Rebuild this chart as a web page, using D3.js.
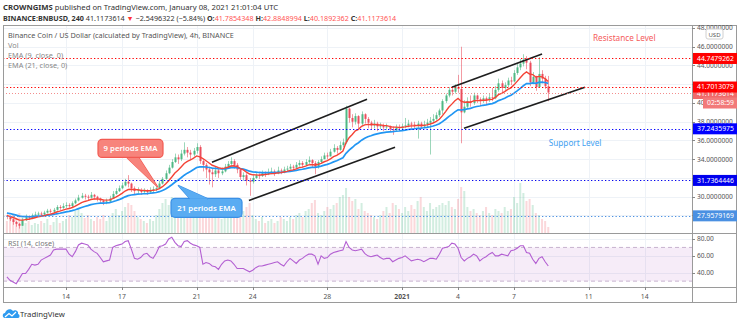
<!DOCTYPE html>
<html><head><meta charset="utf-8">
<script src="https://cdn.jsdelivr.net/npm/d3@7"></script>
<style>
html,body{margin:0;padding:0;background:#fff;}
svg{display:block;font-family:"Noto Sans",sans-serif;}
</style></head><body>
<svg id="c" width="740" height="324"></svg>
<script>
// ---------------- DATA ----------------
const firstCandleTime = Date.UTC(2020, 11, 10, 20, 0); // 4h candles
const candleHours = 4;
const firstOpen = 28.0;
const closes = [
27.9,27.6,27.3,27.1,26.9,27.5,27.8,27.7,28.0,28.1,
28.2,28.1,28.3,28.5,28.4,28.6,28.9,28.8,29.0,29.1,
29.0,29.3,29.6,29.9,30.1,30.0,29.9,30.2,30.0,29.8,
29.6,29.4,29.5,29.8,30.3,30.6,30.9,31.2,31.6,31.4,
30.9,30.6,30.7,30.5,30.6,30.5,30.7,30.8,30.9,31.4,
31.9,32.5,33.1,33.7,34.2,34.0,34.6,35.0,34.7,34.5,
34.9,35.3,33.8,33.4,32.9,32.6,32.4,32.8,32.5,32.7,
33.2,33.5,33.8,33.4,32.9,32.1,32.3,31.7,31.6,32.0,
32.3,32.2,32.5,32.4,32.6,32.7,32.5,32.8,32.7,32.9,
33.0,33.2,33.1,33.4,33.6,33.4,33.7,33.9,33.6,33.2,
33.7,34.0,34.4,34.3,34.8,35.2,35.0,35.5,35.8,39.4,
38.4,38.0,38.6,37.8,38.8,38.3,37.9,37.6,37.8,37.5,
37.6,37.4,37.5,37.2,37.1,37.4,37.3,37.5,37.6,37.8,
37.7,37.6,37.8,37.5,37.7,37.9,38.1,38.3,38.7,39.2,
40.2,40.8,41.4,41.2,41.7,41.5,39.0,39.6,40.2,40.0,
40.8,40.4,40.2,40.5,40.3,40.6,40.5,41.4,42.1,41.6,
41.9,42.4,42.3,43.2,43.8,44.2,44.6,44.3,42.2,42.8,
41.7,43.1,42.6,41.7854348,41.1173614];
const highs = [
28.1,28.0,27.7,27.4,27.2,27.7,28.1,28.0,28.2,28.4,
28.4,28.4,28.5,28.7,28.7,28.8,29.1,29.1,29.3,29.4,
29.3,29.5,29.8,30.2,30.4,30.3,30.2,30.5,30.3,30.1,
29.9,29.7,29.8,30.1,30.6,30.9,31.2,31.5,31.9,32.3,
31.5,31.1,31.0,30.9,30.9,30.8,31.0,31.1,31.2,31.7,
32.1,32.8,33.4,34.0,34.6,34.5,35.0,35.8,35.3,35.0,
35.2,35.7,35.5,34.0,33.6,33.2,33.0,33.2,33.0,33.1,
33.5,33.8,34.2,34.0,33.6,33.0,32.6,32.5,32.0,32.3,
32.5,32.5,32.8,32.7,33.0,33.1,32.9,33.2,33.0,33.2,
33.3,33.5,33.4,33.7,33.9,33.8,34.0,34.3,34.0,33.8,
33.9,34.3,34.7,34.7,35.1,35.6,35.4,35.9,36.2,39.7,
39.5,38.8,38.9,38.7,39.1,38.9,38.5,38.1,38.2,38.0,
37.9,37.8,37.8,37.6,37.5,37.7,37.7,37.8,38.4,38.2,
38.0,38.0,38.1,38.0,38.1,38.3,38.5,38.8,39.0,39.4,
40.4,41.0,41.7,41.7,42.0,43.0,46.0,40.3,40.6,40.8,
41.1,40.9,40.6,40.8,40.7,41.0,41.6,41.8,42.6,42.4,
42.2,42.7,42.8,43.5,44.2,44.7,45.2,45.0,44.5,43.3,
42.9,44.9,43.5,42.9,42.8848994];
const lows = [
27.6,27.4,27.0,26.8,26.6,26.9,27.4,27.5,27.6,27.9,
28.0,27.9,28.0,28.2,28.2,28.3,28.5,28.6,28.7,28.8,
28.8,28.9,29.2,29.5,29.8,29.7,29.6,29.8,29.7,29.5,
29.3,29.1,29.2,29.4,29.8,30.2,30.5,30.8,31.1,31.0,
30.5,30.2,30.3,30.2,30.3,30.2,30.4,30.5,30.6,30.8,
31.3,31.8,32.4,33.0,33.6,33.5,33.8,34.4,34.2,33.9,
34.3,34.6,33.5,32.7,32.0,31.3,31.0,32.1,32.0,32.3,
32.6,33.0,33.2,33.0,32.5,31.8,31.7,31.2,30.1,31.4,
31.9,31.9,32.1,32.1,32.3,32.4,32.2,32.4,32.4,32.5,
32.7,32.9,32.8,33.0,33.2,33.1,33.3,33.5,33.1,32.4,
33.0,33.5,34.0,34.0,34.3,34.7,34.6,34.9,35.3,35.6,
37.9,37.4,37.7,37.3,37.6,37.8,37.3,37.2,37.3,37.0,
37.2,37.0,37.1,36.9,36.6,37.0,37.0,37.1,37.3,37.4,
37.3,37.2,36.2,37.2,37.3,37.4,34.5,37.9,38.2,38.5,
38.8,40.0,40.6,40.8,41.0,41.1,35.7,38.9,39.4,39.6,
39.8,40.0,39.8,40.0,39.9,40.1,40.2,40.4,41.2,41.1,
41.4,41.7,41.9,42.2,43.0,43.5,43.9,43.6,41.8,42.0,
41.3,41.6,42.1,41.5,40.1892362];
const volumes = [ // thousands
12,15,18,14,20,16,10,12,8,10,
9,12,10,14,8,11,15,10,12,14,
18,16,22,25,20,15,18,14,12,16,
14,18,12,16,20,24,18,22,26,30,
28,22,16,14,12,10,14,12,18,24,
30,34,28,36,26,22,30,24,20,18,
22,28,32,26,24,20,16,18,22,14,
20,33,18,16,24,28,22,26,30,18,
14,12,16,10,12,14,10,12,16,14,
12,16,14,18,20,16,22,24,30,33,
20,18,22,26,24,28,30,36,38,45,
36,32,34,24,30,22,20,18,16,14,
18,22,26,20,30,28,24,20,26,22,
28,24,32,36,26,22,30,24,26,28,
30,28,32,26,24,34,46,42,26,22,
24,20,18,22,26,20,18,24,22,20,
26,22,24,36,30,50,40,32,34,28,
20,18,14,12,6];
const rsiValues = [
35,31,29,27,33,39,39,44,50,49,
50,55,57,59,61,67,68,68,68,68,
62,59,65,73,75,74,73,68,65,63,
58,53,54,55,70,72,73,74,77,78,
68,57,56,58,62,63,59,57,63,71,
72,74,80,82,76,72,71,77,78,75,
73,72,70,50,52,51,48,47,44,50,
54,55,54,50,45,45,45,43,41,43,
46,48,48,49,50,51,52,53,50,48,
53,57,54,51,55,57,60,62,62,60,
50,60,57,58,62,64,65,66,67,77,
70,67,66,67,68,63,60,59,60,61,
58,56,57,57,53,55,57,58,60,57,
54,55,56,55,53,55,57,57,56,62,
69,70,71,75,74,69,58,54,57,59,
62,60,54,57,59,62,64,60,60,62,
61,60,66,67,69,72,72,64,63,56,
51,57,59,53,48];
const emaPeriods = [9, 21];
const emaSeeds = [28.0, 28.3];

const priceTicks = [48,46,44,40,38,36,34,30];
const rsiTicks = [80,60,40];
const timeTickDates = ["2020-12-14","2020-12-17","2020-12-21","2020-12-24","2020-12-28","2021-01-01","2021-01-04","2021-01-07","2021-01-11","2021-01-14"];
const timeTickLabels = ["14","17","21","24","28","2021","4","7","11","14"];

const levelValues = [44.7479262, 41.7013079, 37.2435975, 31.7364446, 27.9579169];
const currentPrice = 41.1173614;
const countdownText = "02:58:59";

// trend channel lines: [start date, start price, end date, end price]
const channelLines = [
  ["2020-12-21T19:40Z", 33.67, "2020-12-30T03:00Z", 40.41],
  ["2020-12-23T19:10Z", 29.60, "2020-12-31T15:00Z", 35.27],
  ["2021-01-03T16:00Z", 41.69, "2021-01-08T12:00Z", 45.22],
  ["2021-01-04T07:40Z", 37.30, "2021-01-10T19:10Z", 41.69]
];

// ---------------- STYLE ----------------
const UP = "#4fb884", DOWN = "#eb4d5c";
const levelColors = ["#ff0000","#ff0000","#0000ff","#0000ee","#4a90e2"];

const svg = d3.select("#c");
svg.append("rect").attr("width",740).attr("height",324).attr("fill","#fff");

const L = 3, R = 692, TOP = 25, PB = 233, RB = 287, AB = 302, FR = 737;

const x = d3.scaleUtc()
  .domain([Date.UTC(2020,11,10,15,0), Date.UTC(2021,0,16,12,47)])
  .range([L, R]);
const y = d3.scaleLinear().domain([30,48]).range([196.7,28]);
const ry = d3.scaleLinear().domain([40,80]).range([272.7,239]);
const vy = d3.scaleLinear().domain([0,52]).range([PB, PB-52]);

const candles = closes.map((c,i) => {
  const o = i === 0 ? firstOpen : closes[i-1];
  return {t: new Date(firstCandleTime + i*candleHours*3600e3), o, c,
          h: Math.max(highs[i], o, c), l: Math.min(lows[i], o, c), v: volumes[i], rsi: rsiValues[i]};
});

// EMA
const emas = emaPeriods.map((p, k) => {
  const a = 2/(p+1); let e = emaSeeds[k];
  return candles.map(d => { e = e + a*(d.c - e); return {t:d.t, v:e}; });
});

// clips
const defs = svg.append("defs");
defs.append("clipPath").attr("id","pc").append("rect").attr("x",L).attr("y",TOP).attr("width",R-L).attr("height",PB-TOP);
defs.append("clipPath").attr("id","rc").append("rect").attr("x",L).attr("y",PB).attr("width",R-L).attr("height",RB-PB);

const tickDates = timeTickDates.map(s => new Date(s+"T00:00Z"));

// grid
const grid = svg.append("g").attr("stroke","#eef2f7").attr("stroke-width",1);
tickDates.forEach(d => {
  const xx = Math.round(x(d))+0.5;
  grid.append("line").attr("x1",xx).attr("x2",xx).attr("y1",TOP).attr("y2",RB);
});
d3.range(28, 49, 2).forEach(p => {
  const yy = Math.round(y(p))+0.5;
  if (yy > TOP && yy < PB) grid.append("line").attr("x1",L).attr("x2",R).attr("y1",yy).attr("y2",yy);
});
rsiTicks.forEach(p => {
  const yy = Math.round(ry(p))+0.5;
  grid.append("line").attr("x1",L).attr("x2",R).attr("y1",yy).attr("y2",yy);
});

// price pane
const pp = svg.append("g").attr("clip-path","url(#pc)");
// volume
pp.append("g").selectAll("rect").data(candles).join("rect")
  .attr("x", d => x(d.t)-1).attr("width",2)
  .attr("y", d => vy(d.v)).attr("height", d => PB - vy(d.v))
  .attr("fill", d => d.c >= d.o ? "rgba(83,185,135,0.26)" : "rgba(235,77,92,0.22)");
// wicks
pp.append("g").selectAll("line").data(candles).join("line")
  .attr("x1", d => Math.round(x(d.t))+0.5).attr("x2", d => Math.round(x(d.t))+0.5)
  .attr("y1", d => y(d.h)).attr("y2", d => y(d.l))
  .attr("stroke", d => d.c >= d.o ? UP : DOWN).attr("stroke-width",0.8).attr("opacity",0.7);
// bodies
pp.append("g").selectAll("rect").data(candles).join("rect")
  .attr("x", d => Math.round(x(d.t))-0.5).attr("width",2)
  .attr("y", d => y(Math.max(d.o,d.c)))
  .attr("height", d => Math.max(1, Math.abs(y(d.o)-y(d.c))))
  .attr("fill", d => d.c >= d.o ? UP : DOWN);

// EMAs
const line = d3.line().x(d => x(d.t)).y(d => y(d.v)).curve(d3.curveLinear);
pp.append("path").datum(emas[1]).attr("d", line).attr("fill","none").attr("stroke","#2196f3").attr("stroke-width",1.7);
pp.append("path").datum(emas[0]).attr("d", line).attr("fill","none").attr("stroke","#f44336").attr("stroke-width",1.4);

// level lines
levelValues.forEach((v,i) => {
  const yy = Math.round(y(v))+0.5;
  svg.append("line").attr("x1",L).attr("x2",R).attr("y1",yy).attr("y2",yy)
    .attr("stroke", levelColors[i]).attr("stroke-width",1.2).attr("stroke-dasharray","1.3,2.2");
});
svg.append("line").attr("x1",L).attr("x2",R).attr("y1",Math.round(y(currentPrice))+0.5).attr("y2",Math.round(y(currentPrice))+0.5)
  .attr("stroke","#f07070").attr("stroke-width",0.8).attr("stroke-dasharray","1,2");

// channel lines
channelLines.forEach(c => {
  pp.append("line")
    .attr("x1", x(new Date(c[0]))).attr("y1", y(c[1]))
    .attr("x2", x(new Date(c[2]))).attr("y2", y(c[3]))
    .attr("stroke","#1e1e1e").attr("stroke-width",1.6);
});

// annotations
svg.append("text").attr("x", x(new Date("2021-01-11T05:30Z"))).attr("y", y(46.95)+3)
  .attr("font-size",8.2).attr("fill","#f55a5a").text("Resistance Level");
svg.append("text").attr("x", x(new Date("2021-01-08T20:40Z"))).attr("y", y(35.75)+3)
  .attr("font-size",8.2).attr("fill","#42a0f0").text("Support Level");

function callout(tipDate, tipPrice, box, base, fill, stroke, label) {
  const tx = x(new Date(tipDate)), ty = y(tipPrice);
  const g = svg.append("g");
  g.append("rect").attr("x", tx+box[0]).attr("y", ty+box[1]).attr("width", box[2]).attr("height", box[3])
    .attr("rx",4).attr("fill",fill).attr("stroke",stroke).attr("stroke-width",1.2);
  g.append("path").attr("d", `M${tx+base[0]},${ty+base[1]} L${tx},${ty} L${tx+base[2]},${ty+base[1]}`)
    .attr("fill","none").attr("stroke",stroke).attr("stroke-width",1.2);
  g.append("path").attr("d", `M${tx+base[0]},${ty+base[1]} L${tx},${ty} L${tx+base[2]},${ty+base[1]}Z`)
    .attr("fill",fill);
  g.append("text").attr("x", tx+box[0]+box[2]/2).attr("y", ty+box[1]+box[3]/2+3)
    .attr("text-anchor","middle").attr("font-size",7.8).attr("font-weight",600).attr("fill","#fff").text(label);
}
callout("2020-12-18T22:16Z", 30.99, [-60,-48,65,18], [-31,-29.5,-19], "#f7847c", "#f25a52", "9 periods EMA");
callout("2020-12-20T00:00Z", 31.21, [-7,13,71,19], [12,13.5,30], "#5aacf2", "#3a90e6", "21 periods EMA");

// RSI pane
const rp = svg.append("g").attr("clip-path","url(#rc)");
rp.append("rect").attr("x",L).attr("width",R-L).attr("y",ry(70)).attr("height",ry(30)-ry(70)).attr("fill","rgba(156,39,176,0.09)");
[70,30].forEach(v => rp.append("line").attr("x1",L).attr("x2",R).attr("y1",ry(v)).attr("y2",ry(v))
  .attr("stroke","#c7b3cf").attr("stroke-dasharray","4,3").attr("stroke-width",1));
rp.append("path").datum(candles).attr("d", d3.line().x(d => x(d.t)).y(d => ry(d.rsi)))
  .attr("fill","none").attr("stroke","#b35fd2").attr("stroke-width",1.1);
svg.append("text").attr("x",8).attr("y",246).attr("font-size",7.2).attr("fill","#777").text("RSI (14, close)");

// frame
const fr = svg.append("g").attr("stroke","#9a9a9a").attr("fill","none");
fr.append("rect").attr("x",L+0.5).attr("y",TOP+0.5).attr("width",FR-L-1).attr("height",AB-TOP);
fr.append("line").attr("x1",R+0.5).attr("x2",R+0.5).attr("y1",TOP).attr("y2",AB+0.5);
fr.append("line").attr("x1",L).attr("x2",FR).attr("y1",PB+0.5).attr("y2",PB+0.5);
fr.append("line").attr("x1",L).attr("x2",FR).attr("y1",RB+0.5).attr("y2",RB+0.5);

// price axis labels
const ax = svg.append("g").attr("font-size",6.6).attr("fill","#555");
d3.range(28, 49, 2).forEach(p => {
  const yy = Math.round(y(p))+0.5;
  if (yy > TOP && yy < PB) ax.append("line").attr("x1",R).attr("x2",R+3).attr("y1",yy).attr("y2",yy).attr("stroke","#888");
});
priceTicks.forEach(p => {
  const yy = y(p);
  ax.append("text").attr("x",R+5).attr("y",yy+2.3).text(p === 40 ? "40" : d3.format(".7f")(p));
});
rsiTicks.forEach(p => {
  const yy = ry(p);
  ax.append("line").attr("x1",R).attr("x2",R+3).attr("y1",Math.round(yy)+0.5).attr("y2",Math.round(yy)+0.5).attr("stroke","#888");
  ax.append("text").attr("x",R+5).attr("y",yy+2.3).text(d3.format(".2f")(p));
});
// USD badge
svg.append("rect").attr("x",706).attr("y",29).attr("width",17).attr("height",10).attr("rx",2).attr("fill","#fff").attr("stroke","#d0d0d0");
svg.append("text").attr("x",714.5).attr("y",36.5).attr("text-anchor","middle").attr("font-size",6).attr("fill","#555").text("USD");

// level labels
function axisLabel(v, fill, txt, x0, dy) {
  const yy = y(v) + (dy||0);
  svg.append("rect").attr("x",x0).attr("y",yy-5.5).attr("width",FR-x0).attr("height",11).attr("fill",fill);
  svg.append("text").attr("x",x0+4).attr("y",yy+2.4).attr("font-size",6.8).attr("fill","#fff").text(txt);
}
axisLabel(currentPrice, "#f06a6a", d3.format(".7f")(currentPrice), R+1, 1);
levelValues.forEach((v,i) => axisLabel(v, levelColors[i], d3.format(".7f")(v), R+1));
axisLabel(currentPrice, "#f27a7a", countdownText, 703, 10.5);

// time axis
const ta = svg.append("g").attr("font-size",6.8).attr("fill","#555").attr("text-anchor","middle");
tickDates.forEach((d,i) => {
  const xx = x(d);
  ta.append("line").attr("x1",Math.round(xx)+0.5).attr("x2",Math.round(xx)+0.5).attr("y1",RB).attr("y2",RB+3).attr("stroke","#888");
  ta.append("text").attr("x",xx).attr("y",298.5).attr("font-weight", timeTickLabels[i]==="2021" ? 700 : 400).text(timeTickLabels[i]);
});

// legend
const lg = svg.append("g").attr("font-size",7.3);
lg.append("text").attr("x",8).attr("y",37.5).attr("fill","#555").text("Binance Coin / US Dollar (calculated by TradingView), 4h, BINANCE");
lg.append("text").attr("x",8).attr("y",47.5).attr("fill","#888").text("Vol");
lg.append("text").attr("x",8).attr("y",57.5).attr("fill","#888").text("EMA (9, close, 0)");
lg.append("text").attr("x",8).attr("y",67.5).attr("fill","#888").text("EMA (21, close, 0)");

// header
const h1 = svg.append("text").attr("x",3).attr("y",10).attr("font-size",7.7).attr("fill","#333");
h1.append("tspan").attr("font-weight",700).text("CROWNGIMS");
h1.append("tspan").text(" published on TradingView.com, January 08, 2021 21:01:04 UTC");
const h2 = svg.append("text").attr("x",3).attr("y",20.5).attr("font-size",7.2).attr("fill","#333");
h2.append("tspan").attr("font-weight",700).text("BINANCE:BNBUSD, 240");
h2.append("tspan").text(" 41.1173614 ");
h2.append("tspan").attr("fill","#f33").text("▼");
h2.append("tspan").text(" −2.5496322 (−5.84%) ");
[["O:","41.7854348"],["H:","42.8848994"],["L:","40.1892362"],["C:","41.1173614"]].forEach((p,i) => {
  h2.append("tspan").attr("font-weight",700).text((i?" ":"")+p[0]);
  h2.append("tspan").attr("fill","#f55").text(p[1]);
});

// TradingView logo
const logo = svg.append("g").attr("transform","translate(3,308)");
logo.append("path").attr("d","M2,10 C-1,10 -1,5 2,5 C3,1 8,0 10,3 C12,1 16,3 15,6 C17,6 17,10 15,10 Z").attr("fill","#2f9bf0");
logo.append("path").attr("d","M2,9 L6,5.5 L9,8 L13,4").attr("fill","none").attr("stroke","#fff").attr("stroke-width",1.2);
svg.append("text").attr("x",20).attr("y",317).attr("font-size",7.8).attr("fill","#333").text("TradingView");
</script>
</body></html>
